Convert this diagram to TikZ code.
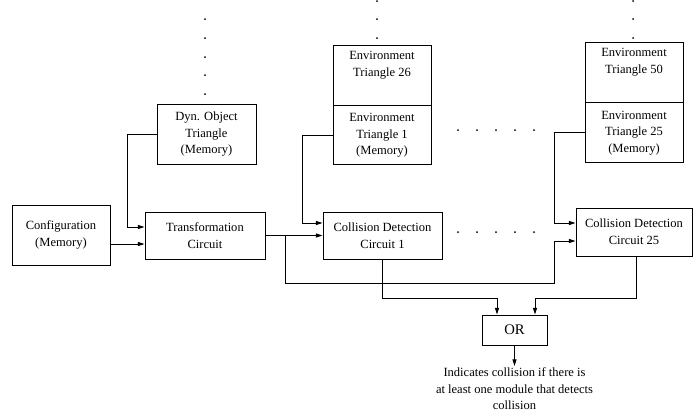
\documentclass[tikz,border=0pt]{standalone}
\usepackage{fontspec}
\setmainfont{Liberation Serif}
\usetikzlibrary{positioning, arrows.meta, calc}

\begin{document}
\begin{tikzpicture}[x=0.75pt, y=-0.75pt, font=\fontsize{9.4}{12.5}\selectfont,
  >={Triangle[length=5pt,width=3pt]}, line width=0.7pt,
  blk/.style={draw, align=center, inner sep=1pt},
  dotmark/.style={fill, radius=0.75pt}]
  \useasboundingbox (0,0) rectangle (693,419);
  % memories
  \node[blk, minimum width=73.5pt, minimum height=45pt] (cfg) at (61,235) {Configuration\\ (Memory)};
  \node[blk, minimum width=74.25pt, minimum height=45pt] (dyn) at (206.5,134) {Dyn. Object\\ Triangle\\ (Memory)};
  \node[blk, minimum width=73.5pt, minimum height=45pt] (env26) at (382,75) {Environment\\ Triangle 26\\ \strut};
  \node[blk, minimum width=73.5pt, minimum height=44.25pt, below=0pt of env26.south, anchor=north] (env1) {Environment\\ Triangle 1\\ (Memory)};
  \node[blk, minimum width=73.5pt, minimum height=45pt] (env50) at (634,72) {Environment\\ Triangle 50\\ \strut};
  \node[blk, minimum width=73.5pt, minimum height=45pt, below=0pt of env50.south, anchor=north] (env25) {Environment\\ Triangle 25\\ (Memory)};
  % circuits
  \node[blk, minimum width=90pt, minimum height=35.25pt] (tr) at (205,235.5) {Transformation\\ Circuit};
  \node[blk, minimum width=89.25pt, minimum height=35.25pt] (cd1) at (382.5,235.5) {Collision Detection\\ Circuit 1};
  \node[blk, minimum width=87pt, minimum height=36pt] (cd25) at (634,232) {Collision Detection\\ Circuit 25};
  \node[blk, minimum width=48.75pt, minimum height=22.5pt, font=\fontsize{11}{13}\selectfont] (or) at (514.5,330) {OR};
  \node[align=center, inner sep=1pt, anchor=north] (note) at (514.5,366) {Indicates collision if there is\\ at least one module that detects\\ collision};
  % connections
  \draw[->] (dyn.west) -- ++(-29,0) |- ($(tr.west)+(0,-8.5)$);
  \draw[->] ($(cfg.east)+(0,9)$) coordinate (c1) -- (c1 -| tr.west);
  \draw[->] (tr.east) -- (cd1.west);
  \draw[->] ($(tr.east)+(20,0)$) -- ++(0,47.5) -| ($(cd25.west)+(-21,9)$) -- ($(cd25.west)+(0,9)$);
  \draw[->] (env1.west) -- ++(-30,0) |- ($(cd1.west)+(0,-12.5)$);
  \draw[->] (env25.west) -- ++(-30,0) |- ($(cd25.west)+(0,-9)$);
  \draw[->] (cd1.south) -- ++(0,39) -| ($(or.north)+(-17.5,0)$);
  \draw[->] ($(cd25.south)+(2,0)$) -- ++(0,42) -| ($(or.north)+(20.5,0)$);
  \draw[->] (or.south) -- (note.north);
  % dots
  \foreach \y in {19,38,57,75,94} \fill[dotmark] (205,\y) circle;
  \foreach \y in {1,19,38} {
    \fill[dotmark] (377,\y) circle;
    \fill[dotmark] (633,\y) circle;
  }
  \foreach \x in {458,477,496,515,534} {
    \fill[dotmark] (\x,130) circle;
    \fill[dotmark] (\x,232) circle;
  }
\end{tikzpicture}
\end{document}
